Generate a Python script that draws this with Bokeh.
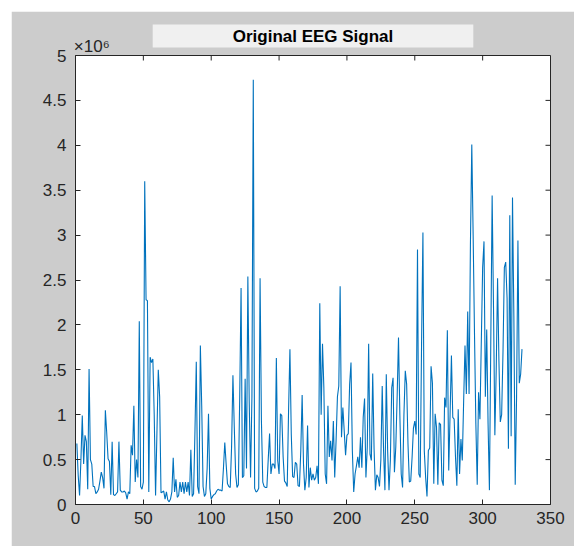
import numpy as np
from bokeh.plotting import figure
from bokeh.models import FixedTicker, LinearAxis, Range1d
from bokeh.embed import file_html
from bokeh.resources import INLINE

# EEG signal values in units of 1e6
eeg_millions = [
    0.68, 0.32, 0.10, 0.50, 0.99, 0.45, 0.77, 0.70, 0.17, 1.51,
    0.50, 0.45, 0.20, 0.20, 0.12, 0.14, 0.17, 0.26, 0.36, 0.30,
    0.18, 1.05, 0.80, 0.51, 0.48, 0.11, 0.70, 0.11, 0.10, 0.12,
    0.14, 0.70, 0.16, 0.14, 0.14, 0.15, 0.13, 0.06, 0.14, 0.12,
    0.66, 0.55, 1.10, 0.25, 0.50, 0.30, 2.04, 0.20, 0.17, 0.25,
    3.60, 2.28, 2.27, 0.14, 1.64, 1.58, 1.62, 1.00, 0.10, 0.80,
    1.50, 1.20, 0.13, 0.14, 0.15, 0.06, 0.14, 0.05, 0.03, 0.06,
    0.14, 0.52, 0.14, 0.28, 0.08, 0.10, 0.25, 0.14, 0.25, 0.12,
    0.25, 0.14, 0.25, 0.10, 0.61, 0.09, 0.12, 0.80, 1.59, 0.20,
    0.12, 1.77, 1.10, 0.20, 0.09, 0.12, 0.40, 1.01, 0.18, 0.06,
    0.09, 0.11, 0.12, 0.15, 0.17, 0.16, 0.16, 0.15, 0.40, 0.69,
    0.45, 0.23, 0.20, 0.19, 0.64, 1.44, 0.86, 0.34, 0.19, 0.22,
    1.20, 2.41, 0.30, 0.32, 1.40, 0.40, 2.54, 1.15, 0.30, 1.20,
    4.73, 0.18, 0.14, 0.15, 0.18, 2.52, 0.93, 0.25, 0.20, 0.19,
    0.19, 0.50, 0.79, 0.34, 0.45, 0.45, 0.40, 1.63, 0.49, 0.34,
    1.01, 0.99, 0.53, 0.26, 0.24, 0.20, 1.05, 1.73, 0.78, 0.31,
    0.30, 0.47, 0.45, 0.21, 0.20, 0.60, 1.22, 0.45, 0.16, 0.30,
    0.88, 0.19, 0.41, 0.27, 0.34, 0.27, 0.30, 0.43, 0.23, 2.24,
    1.00, 1.79, 1.30, 0.34, 0.23, 1.10, 0.53, 0.71, 0.49, 0.93,
    0.30, 0.71, 1.20, 1.32, 2.43, 0.75, 1.08, 0.82, 0.55, 0.77,
    0.79, 1.34, 1.58, 0.60, 0.14, 0.34, 0.43, 0.53, 0.41, 0.75,
    0.41, 0.97, 1.18, 0.30, 0.64, 1.79, 0.56, 0.49, 1.46, 0.62,
    0.16, 0.33, 0.30, 0.20, 0.50, 1.32, 0.60, 0.16, 1.45, 0.60,
    0.16, 0.49, 1.30, 1.41, 0.36, 0.64, 1.20, 1.86, 1.00, 0.34,
    0.19, 1.00, 1.49, 1.34, 0.67, 0.25, 0.26, 0.52, 0.85, 0.93,
    0.78, 2.84, 0.34, 0.30, 1.80, 3.03, 0.60, 0.30, 0.09, 0.60,
    0.63, 1.54, 1.35, 0.23, 1.01, 0.86, 0.22, 0.91, 0.89, 0.27,
    0.21, 1.19, 1.08, 1.94, 0.38, 1.00, 1.66, 0.97, 0.95, 0.53,
    0.21, 1.06, 0.34, 0.73, 0.49, 1.15, 1.77, 1.23, 2.15, 1.23,
    2.90, 4.01, 3.00, 1.90, 0.90, 0.22, 1.25, 0.95, 1.80, 2.64,
    2.93, 1.20, 1.95, 0.90, 0.16, 1.80, 3.44, 2.20, 0.77, 1.50,
    2.52, 1.60, 0.92, 1.00, 1.70, 2.64, 2.70, 2.30, 0.62, 3.22,
    0.76, 3.42, 2.10, 0.22, 1.20, 2.94, 1.35, 1.45, 1.73,
]
scale = 1e6
x_ticks = [0, 50, 100, 150, 200, 250, 300, 350]
y_ticks = [0, 0.5, 1, 1.5, 2, 2.5, 3, 3.5, 4, 4.5, 5]
y_tick_labels = ["0", "0.5", "1", "1.5", "2", "2.5", "3", "3.5", "4", "4.5", "5"]
exponent_text = "\u00d710\u2076"
title_text = "Original EEG Signal"

signal = np.array(eeg_millions) * scale
samples = np.arange(1, len(signal) + 1)

FONT = "Liberation Sans"
AXC = "#262626"
BG = "#cccccc"
FW, FH = 475, 449
XMAX, YMAX = 350, 5 * scale
TICK = 5

p = figure(output_backend="svg", toolbar_location=None,
           frame_width=FW, frame_height=FH,
           x_range=Range1d(0, XMAX), y_range=Range1d(0, YMAX),
           x_axis_location=None, y_axis_location=None,
           min_border_left=64, min_border_right=24, min_border_top=44,
           min_border_bottom=42)
p.margin = (11, 0, 0, 11)
p.border_fill_color = BG
p.background_fill_color = "white"
p.outline_line_color = AXC
p.outline_line_width = 1
p.grid.visible = False

p.line(samples, signal, line_color="#0072BD", line_width=1.1)

# inward ticks on the top and right edges (box on)
dy = TICK * YMAX / FH
dx = TICK * XMAX / FW
yt_vals = [v * scale for v in y_ticks]
p.segment(x0=x_ticks, y0=[YMAX] * len(x_ticks), x1=x_ticks,
          y1=[YMAX - dy] * len(x_ticks), line_color=AXC, line_width=1)
p.segment(x0=[XMAX] * len(yt_vals), y0=yt_vals, x1=[XMAX - dx] * len(yt_vals),
          y1=yt_vals, line_color=AXC, line_width=1)


def style_axis(ax):
    ax.axis_line_color = AXC
    ax.major_tick_line_color = AXC
    ax.major_tick_in = TICK
    ax.major_tick_out = 0
    ax.minor_tick_line_color = None
    ax.major_label_text_font = FONT
    ax.major_label_text_color = AXC
    ax.major_label_text_font_size = "17px"


xb = LinearAxis(ticker=FixedTicker(ticks=x_ticks))
style_axis(xb)
xb.major_label_standoff = 7
p.add_layout(xb, "below")

yl = LinearAxis(ticker=FixedTicker(ticks=yt_vals),
                major_label_overrides={v: s for v, s in zip(yt_vals, y_tick_labels)})
style_axis(yl)
yl.major_label_standoff = 9
p.add_layout(yl, "left")

# exponent marker above the top-left corner (as a tick label of a bare top axis)
exp_pos = 12
xe = LinearAxis(ticker=FixedTicker(ticks=[exp_pos]),
                major_label_overrides={exp_pos: exponent_text})
xe.axis_line_color = None
xe.major_tick_line_color = None
xe.major_tick_in = 0
xe.major_tick_out = 0
xe.minor_tick_line_color = None
xe.major_label_standoff = 0
xe.major_label_text_font = FONT
xe.major_label_text_color = AXC
xe.major_label_text_font_size = "17px"
p.add_layout(xe, "above")

# title in a light box
p.title.text = title_text
p.title.align = "center"
p.title.vertical_align = "bottom"
p.title.text_font = FONT
p.title.text_font_size = "17px"
p.title.text_font_style = "bold"
p.title.text_color = "black"
p.title.background_fill_color = "#f0f0f0"
p.title.padding = dict(left=80, right=80, top=2, bottom=2)
p.title.standoff = -28

open("out.html", "w").write(file_html(p, INLINE))
